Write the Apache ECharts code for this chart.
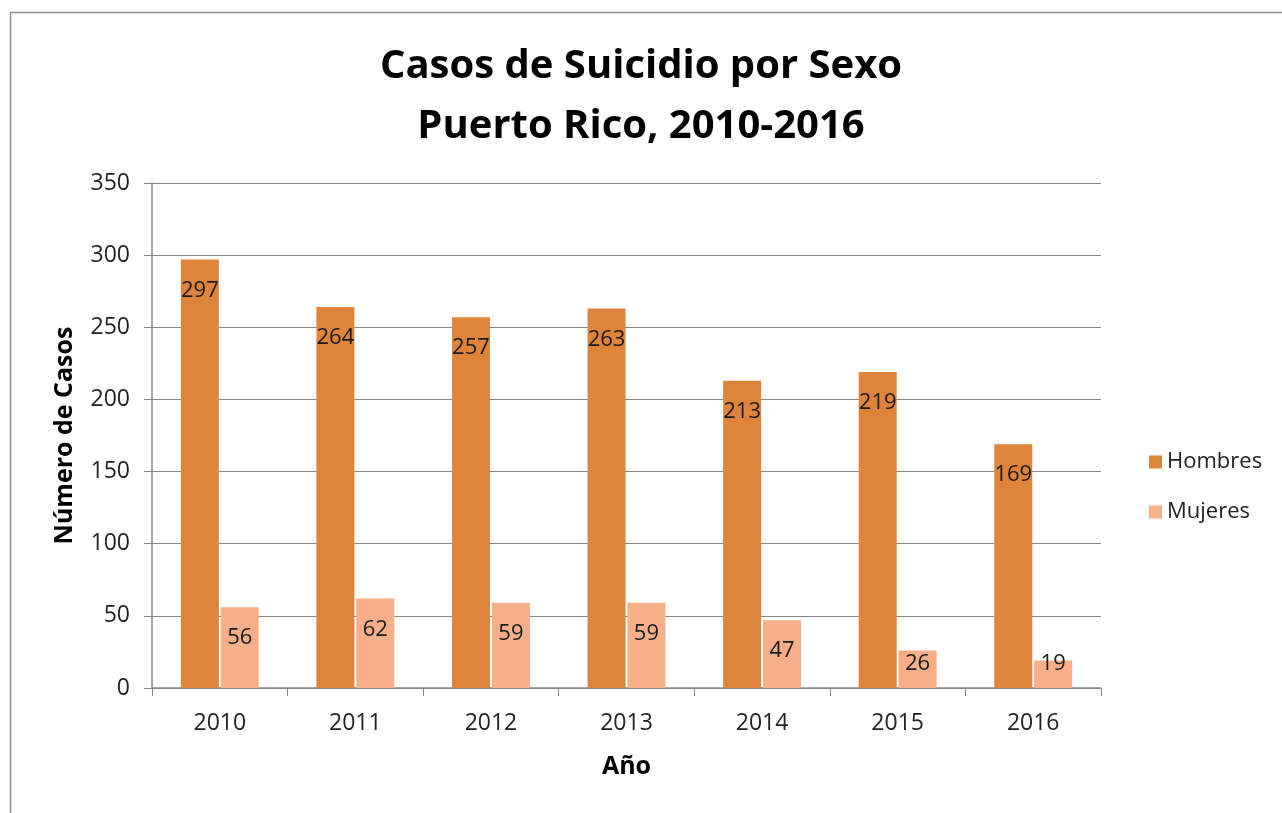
<!DOCTYPE html>
<html>
<head>
<meta charset="utf-8">
<script src="https://cdn.jsdelivr.net/npm/echarts@6/dist/echarts.min.js"></script>
<style>
html,body{margin:0;padding:0;background:#fff;}
#chart{width:1282px;height:813px;}
</style>
</head>
<body>
<div id="chart"></div>
<script>
const years = ['2010','2011','2012','2013','2014','2015','2016'];
const hombres = [297, 264, 257, 263, 213, 219, 169];
const mujeres = [56, 62, 59, 59, 47, 26, 19];
const seriesNames = ['Hombres', 'Mujeres'];
const titleLines = ['Casos de Suicidio por Sexo', 'Puerto Rico, 2010-2016'];

const FONT = '"Open Sans", Lato, sans-serif';
const chart = echarts.init(document.getElementById('chart'));

function mujeresData(vals){
  return vals.map(v => v < 30
    ? {value: v, label: {position: 'insideBottom', distance: 13}}
    : v);
}

chart.setOption({
  animation: false,
  backgroundColor: '#fff',
  textStyle: {fontFamily: FONT},
  title: {
    text: titleLines.join('\n'),
    left: 'center',
    top: 32,
    textStyle: {fontFamily: FONT, fontSize: 40, fontWeight: 'bold', color: '#000', lineHeight: 60}
  },
  graphic: [{
    type: 'rect',
    shape: {x: 10.5, y: 12.5, width: 1300, height: 830},
    style: {fill: 'none', stroke: '#8c8c8c', lineWidth: 1.5},
    silent: true
  }],
  legend: {
    orient: 'vertical',
    left: 1144,
    top: 446,
    itemWidth: 13,
    itemHeight: 13,
    itemGap: 28,
    icon: 'rect',
    textStyle: {fontFamily: FONT, fontSize: 22, color: '#222'},
    data: seriesNames
  },
  grid: {left: 152, right: 181, top: 183, bottom: 125, containLabel: false},
  xAxis: {
    type: 'category',
    data: years,
    name: 'Año',
    nameLocation: 'middle',
    nameGap: 66,
    nameTextStyle: {fontFamily: FONT, fontSize: 25, fontWeight: 'bold', color: '#000'},
    axisLine: {lineStyle: {color: '#868686', width: 1.5}},
    axisTick: {show: true, length: 8, lineStyle: {color: '#868686'}},
    axisLabel: {fontFamily: FONT, fontSize: 23, color: '#222', margin: 24}
  },
  yAxis: {
    type: 'value',
    min: 0, max: 350, interval: 50,
    name: 'Número de Casos',
    nameLocation: 'middle',
    nameGap: 75,
    nameTextStyle: {fontFamily: FONT, fontSize: 25, fontWeight: 'bold', color: '#000'},
    axisLine: {show: true, lineStyle: {color: '#868686', width: 1.5}},
    axisTick: {show: true, length: 8, lineStyle: {color: '#868686'}},
    axisLabel: {fontFamily: FONT, fontSize: 23, color: '#222', margin: 22},
    splitLine: {lineStyle: {color: '#868686', width: 1.2}}
  },
  series: [
    {
      name: seriesNames[0],
      type: 'bar',
      data: hombres,
      barWidth: 38,
      barGap: '5%',
      itemStyle: {color: '#DE843B'},
      label: {show: true, position: 'insideTop', distance: 20, fontFamily: FONT, fontSize: 22, color: '#1a1a1a'}
    },
    {
      name: seriesNames[1],
      type: 'bar',
      data: mujeresData(mujeres),
      barWidth: 38,
      barGap: '5%',
      itemStyle: {color: '#F7AF89'},
      label: {show: true, position: 'insideTop', distance: 20, fontFamily: FONT, fontSize: 22, color: '#1a1a1a'}
    }
  ]
});
</script>
</body>
</html>
